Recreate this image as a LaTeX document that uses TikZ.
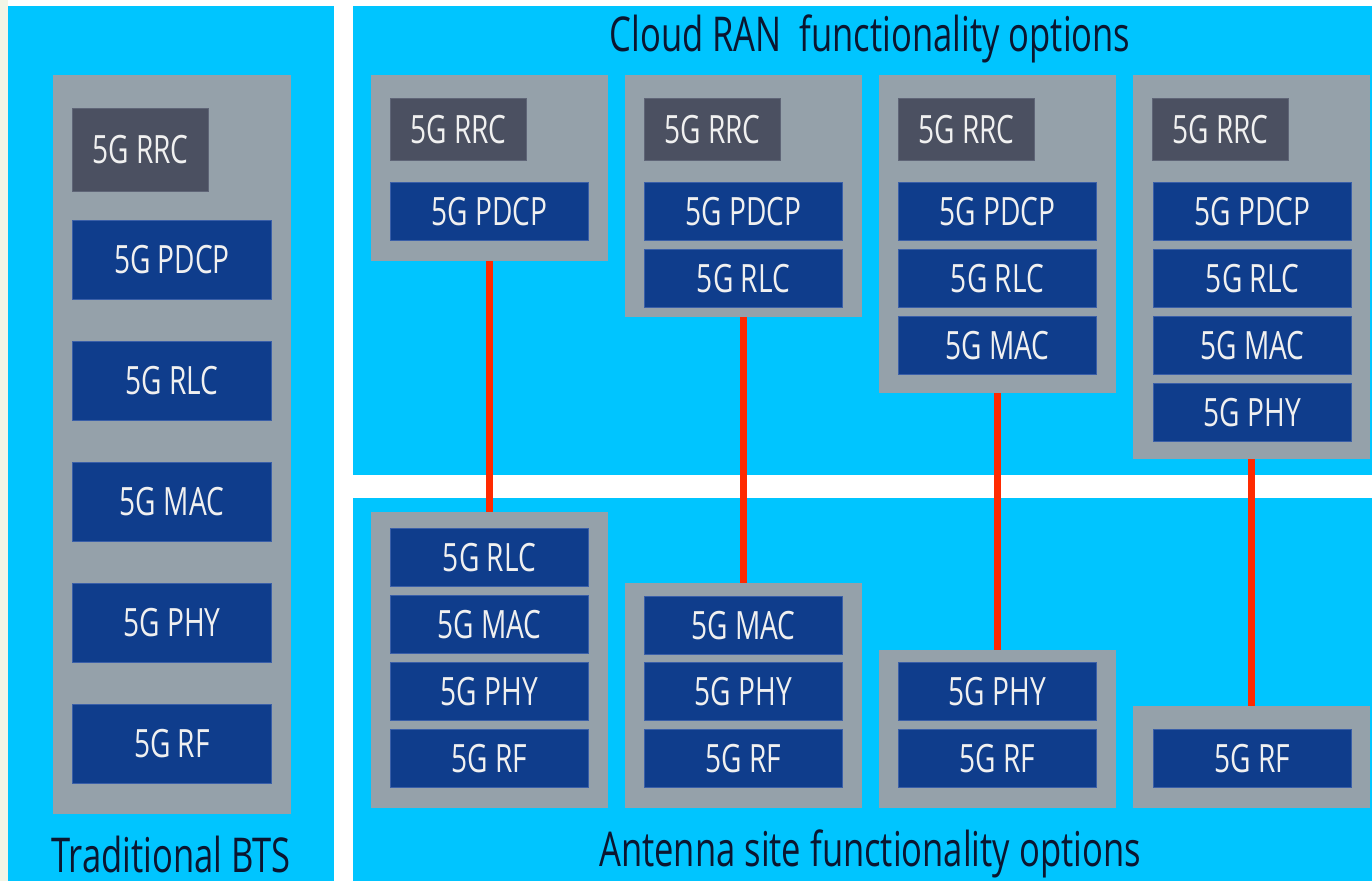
\documentclass[tikz,border=0pt]{standalone}
\usepackage{fontspec}
\setmainfont{Open Sans}[FakeStretch=0.72]
\definecolor{panel}{HTML}{00C5FF}
\definecolor{strip}{HTML}{F3F5E6}
\definecolor{unitgrey}{HTML}{95A1AA}
\definecolor{rrcgrey}{HTML}{4B5061}
\definecolor{rrcedge}{HTML}{5F6577}
\definecolor{layerblue}{HTML}{0F3D8C}
\definecolor{layeredge}{HTML}{3A5FA8}
\definecolor{linkred}{HTML}{FF2A00}
\definecolor{titleink}{HTML}{0B1630}
\begin{document}
\begin{tikzpicture}[x=1pt,y=-1pt,
  unit/.style={fill=unitgrey, inner sep=0pt, anchor=north west, minimum width=237pt},
  layer/.style={fill=layerblue, draw=layeredge, line width=0.8pt, text=white!94!black,
    font=\fontsize{39}{39}\selectfont, inner sep=0pt, anchor=north west,
    minimum width=198pt, minimum height=58pt},
  rrcbox/.style={layer, fill=rrcgrey, draw=rrcedge, minimum width=136pt, minimum height=62pt},
  title/.style={text=titleink, font=\fontsize{48}{48}\selectfont, inner sep=0pt},
  link/.style={draw=linkred, line width=7.5pt}]
\useasboundingbox (0,0) rectangle (1372,881);
% page and panels
\fill[white] (0,0) rectangle (1372,881);
\fill[strip] (0,0) rectangle (8,881);
\fill[panel] (8,6) rectangle (334,881);
\fill[panel] (353,6) rectangle (1372,475);
\fill[panel] (353,498) rectangle (1372,881);

% traditional base station: the whole stack at one site
\node[unit, minimum width=238pt, minimum height=739pt] (bts) at (53,75) {};
\node[rrcbox, minimum height=83pt] (bts-rrc) at (72,108) {5G RRC};
\node[layer, minimum width=199pt, minimum height=79pt] (bts-pdcp) at (72,220) {5G PDCP};
\node[layer, minimum width=199pt, minimum height=79pt] (bts-rlc) at (72,341) {5G RLC};
\node[layer, minimum width=199pt, minimum height=79pt] (bts-mac) at (72,462) {5G MAC};
\node[layer, minimum width=199pt, minimum height=79pt] (bts-phy) at (72,583) {5G PHY};
\node[layer, minimum width=199pt, minimum height=79pt] (bts-rf) at (72,704) {5G RF};
\node[title] (bts-title) at (171,854) {Traditional BTS};

% cloud RAN side (upper row)
\node[title] (cran-title) at (870,39) {Cloud RAN\ \ functionality options};

\node[unit, minimum height=186pt] (c1) at (371,75) {};
\node[rrcbox] (c1-rrc) at (390,98) {5G RRC};
\node[layer] (c1-pdcp) at (390,182) {5G PDCP};

\node[unit, minimum height=242pt] (c2) at (625,75) {};
\node[rrcbox] (c2-rrc) at (644,98) {5G RRC};
\node[layer] (c2-pdcp) at (644,182) {5G PDCP};
\node[layer] (c2-rlc) at (644,249) {5G RLC};

\node[unit, minimum height=318pt] (c3) at (879,75) {};
\node[rrcbox] (c3-rrc) at (898,98) {5G RRC};
\node[layer] (c3-pdcp) at (898,182) {5G PDCP};
\node[layer] (c3-rlc) at (898,249) {5G RLC};
\node[layer] (c3-mac) at (898,316) {5G MAC};

\node[unit, minimum height=384pt] (c4) at (1133,75) {};
\node[rrcbox] (c4-rrc) at (1152,98) {5G RRC};
\node[layer] (c4-pdcp) at (1153,182) {5G PDCP};
\node[layer] (c4-rlc) at (1153,249) {5G RLC};
\node[layer] (c4-mac) at (1153,316) {5G MAC};
\node[layer] (c4-phy) at (1153,383) {5G PHY};

% antenna site side (lower row)
\node[unit, minimum height=296pt] (a1) at (371,512) {};
\node[layer] (a1-rlc) at (390,528) {5G RLC};
\node[layer] (a1-mac) at (390,595) {5G MAC};
\node[layer] (a1-phy) at (390,662) {5G PHY};
\node[layer] (a1-rf) at (390,729) {5G RF};

\node[unit, minimum height=225pt] (a2) at (625,583) {};
\node[layer] (a2-mac) at (644,596) {5G MAC};
\node[layer] (a2-phy) at (644,662) {5G PHY};
\node[layer] (a2-rf) at (644,729) {5G RF};

\node[unit, minimum height=158pt] (a3) at (879,650) {};
\node[layer] (a3-phy) at (898,662) {5G PHY};
\node[layer] (a3-rf) at (898,729) {5G RF};

\node[unit, minimum height=102pt] (a4) at (1133,706) {};
\node[layer] (a4-rf) at (1153,729) {5G RF};

\node[title] (ant-title) at (870,854) {Antenna site functionality options};

% fronthaul links between the split parts
\draw[link] (c1.south) -- (a1.north);
\draw[link] (c2.south) -- (a2.north);
\draw[link] (c3.south) -- (a3.north);
\draw[link] (c4.south) -- (a4.north);
\end{tikzpicture}
\end{document}
